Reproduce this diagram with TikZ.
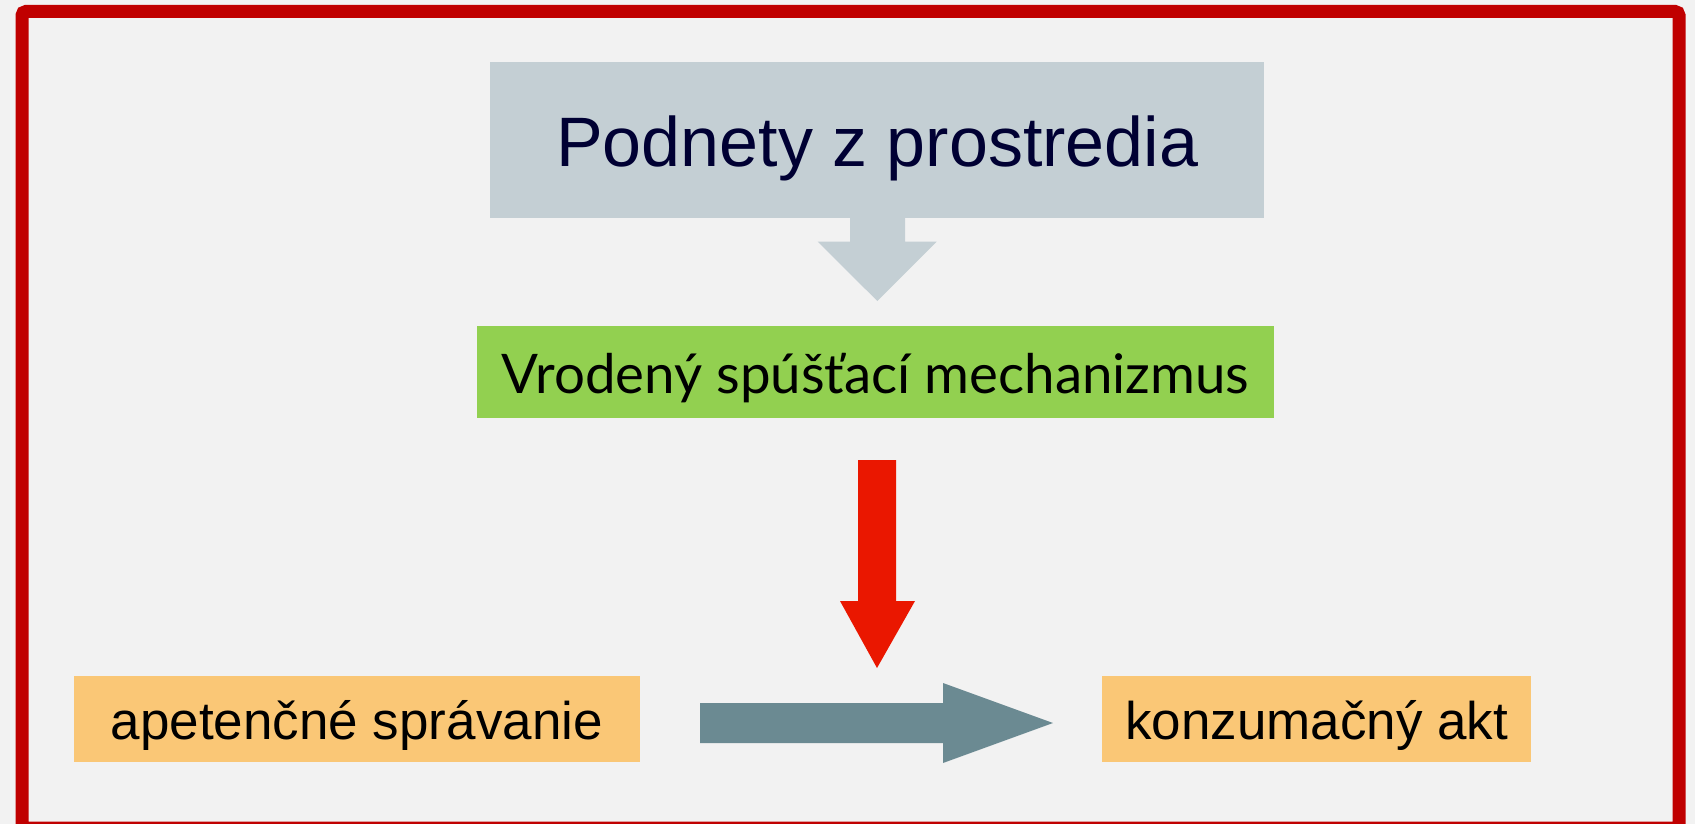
\documentclass[tikz,border=0pt]{standalone}
\usepackage{fontspec}
\newfontfamily\arialf{Liberation Sans}
\newfontfamily\gillf{Lato}
\definecolor{bgc}{RGB}{242,242,242}
\definecolor{framec}{RGB}{192,0,0}
\definecolor{topc}{RGB}{196,207,212}
\definecolor{topt}{RGB}{0,0,51}
\definecolor{greenc}{RGB}{146,208,80}
\definecolor{redc}{RGB}{234,23,0}
\definecolor{slatec}{RGB}{107,138,146}
\definecolor{orangec}{RGB}{250,199,118}
\tikzset{
  box/.style={rectangle, inner sep=0pt, outer sep=0pt, draw=none},
  topbox/.style={box, fill=topc, minimum width=773.7pt, minimum height=155.4pt,
    text height=53.4pt, text depth=0pt, text=topt, font=\arialf\fontsize{70}{84}\selectfont},
  greenbox/.style={box, fill=greenc, minimum width=797pt, minimum height=92.3pt,
    text height=42.2pt, text depth=0pt, font=\gillf\fontsize{54.6}{66}\selectfont},
  orangebox/.style={box, fill=orangec, minimum height=85.7pt,
    text height=40.2pt, text depth=0pt, font=\arialf\fontsize{53}{64}\selectfont},
}
\begin{document}
\begin{tikzpicture}[x=1pt,y=-1pt]
\useasboundingbox (0,0) rectangle (1695,824);
\fill[bgc] (0,0) rectangle (1695,824);
\begin{scope}
\clip (0,0) rectangle (1695,824);
\draw[framec, line width=13pt, rounded corners=4pt] (22,11.5) rectangle (1679,828);
\end{scope}
\node[topbox] (top) at (877.2,140) {Podnety z prostredia};
\node[greenbox] (vsm) at (875.5,372.2) {Vrodený spúšťací mechanizmus};
\node[orangebox, minimum width=566.5pt] (ape) at (356.8,718.9) {apetenčné správanie};
\node[orangebox, minimum width=428.7pt] (kon) at (1316.7,718.9) {konzumačný akt};
% gray arrow from top box
\fill[topc] (850,217.5) -- (905,217.5) -- (905,241.7) -- (936.7,241.7) -- (877.3,301)
  -- (817.7,241.7) -- (850,241.7) -- cycle;
% red arrow
\fill[redc] (858,460) -- (896,460) -- (896,601) -- (915,601) -- (877,668)
  -- (840,601) -- (858,601) -- cycle;
% horizontal arrow
\fill[slatec] (700,703) -- (943,703) -- (943,683) -- (1053,723) -- (943,763)
  -- (943,743) -- (700,743) -- cycle;
\end{tikzpicture}
\end{document}
